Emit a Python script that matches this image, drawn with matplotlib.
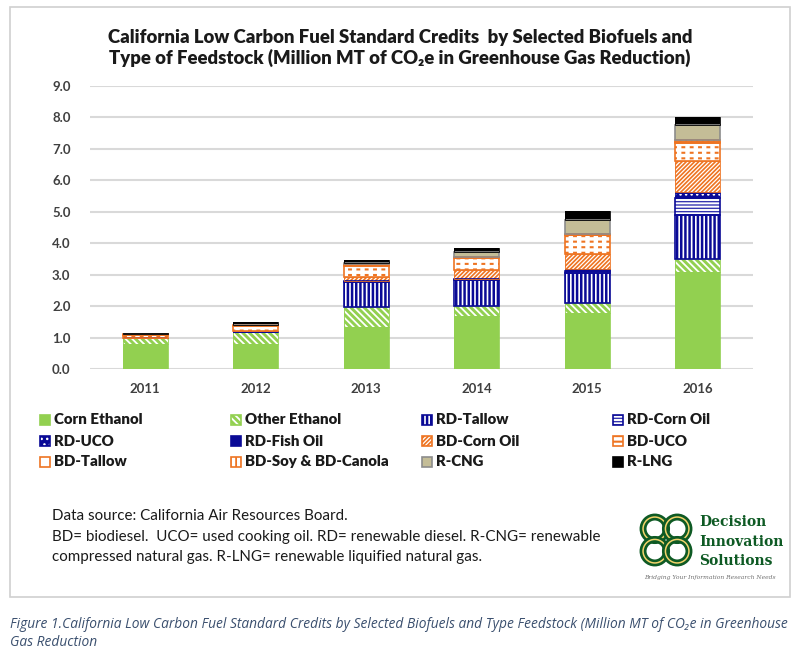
import matplotlib
matplotlib.use("Agg")
import matplotlib.pyplot as plt
from matplotlib.patches import Rectangle, Circle
import numpy as np

years = ["2011", "2012", "2013", "2014", "2015", "2016"]
series_names = ["Corn Ethanol", "Other Ethanol", "RD-Tallow", "RD-Corn Oil",
                "RD-UCO", "RD-Fish Oil", "BD-Corn Oil", "BD-UCO",
                "BD-Tallow", "BD-Soy & BD-Canola", "R-CNG", "R-LNG"]
corn_ethanol = [0.78, 0.78, 1.32, 1.68, 1.79, 3.07]
other_ethanol = [0.22, 0.40, 0.66, 0.33, 0.31, 0.42]
rd_tallow = [0.00, 0.00, 0.79, 0.83, 0.96, 1.42]
rd_corn_oil = [0.00, 0.00, 0.02, 0.03, 0.07, 0.54]
rd_uco = [0.00, 0.04, 0.00, 0.00, 0.04, 0.16]
rd_fish_oil = [0.00, 0.00, 0.00, 0.00, 0.00, 0.02]
bd_corn_oil = [0.00, 0.00, 0.14, 0.27, 0.48, 0.97]
bd_uco = [0.07, 0.14, 0.33, 0.38, 0.60, 0.58]
bd_tallow = [0.02, 0.03, 0.04, 0.03, 0.02, 0.04]
bd_soy_canola = [0.01, 0.02, 0.04, 0.02, 0.03, 0.06]
r_cng = [0.00, 0.00, 0.03, 0.15, 0.43, 0.47]
r_lng = [0.06, 0.07, 0.10, 0.14, 0.29, 0.25]
yticks = [0, 1, 2, 3, 4, 5, 6, 7, 8, 9]

values = [corn_ethanol, other_ethanol, rd_tallow, rd_corn_oil, rd_uco,
          rd_fish_oil, bd_corn_oil, bd_uco, bd_tallow, bd_soy_canola, r_cng, r_lng]

GREEN = "#92D050"
NAVY = "#0A0A96"
ORANGE = "#EE7422"
TAN = "#C4BD97"
# (face, hatch, hatchcolor, outline, hatch linewidth, breaker hatch)
styles = [
    (GREEN, None, None, GREEN, 1.0, None),
    (GREEN, "\\\\\\\\\\", "white", GREEN, 1.3, None),
    ("white", "||||", NAVY, NAVY, 1.8, None),
    ("white", "-----", "#3535B0", NAVY, 1.0, None),
    (NAVY, "...", "white", NAVY, 1.0, None),
    (NAVY, None, None, NAVY, 1.0, None),
    (ORANGE, "////////", "white", ORANGE, 0.9, None),
    ("white", "---", ORANGE, ORANGE, 1.5, "||"),
    ("white", None, None, ORANGE, 1.0, None),
    ("white", "|||", ORANGE, ORANGE, 1.3, None),
    (TAN, None, None, "#8C8C8C", 1.0, None),
    ("black", None, None, "black", 1.0, None),
]

W, H = 800, 655
fig = plt.figure(figsize=(8, 6.55), dpi=100)
fig.patch.set_facecolor("white")

def fx(x):
    return x / W

def fy(y):
    return 1 - y / H

fig.add_artist(Rectangle((fx(10), fy(597)), fx(790) - fx(10), fy(7) - fy(597),
                         transform=fig.transFigure, fill=False,
                         edgecolor="#D0D0D0", linewidth=1.2))

ax = fig.add_axes([fx(90), fy(369), fx(753) - fx(90), fy(86) - fy(369)])
x = np.arange(len(years))
bw = 0.41
bottom = np.zeros(len(years))

def set_hlw(artists, hlw):
    for b in artists:
        if hasattr(b, "set_hatch_linewidth"):
            b.set_hatch_linewidth(hlw)

for vals, (face, hatch, hc, oc, hlw, brk) in zip(values, styles):
    v = np.array(vals)
    plt.rcParams['hatch.linewidth'] = hlw
    bars = ax.bar(x, v, bw, bottom=bottom, color=face,
                  edgecolor=hc if hatch else face,
                  hatch=hatch, linewidth=0, zorder=3)
    set_hlw(bars, hlw)
    if brk:
        plt.rcParams['hatch.linewidth'] = 3.2
        bk = ax.bar(x, v, bw, bottom=bottom, fill=False, edgecolor="white",
                    hatch=brk, linewidth=0, zorder=3.5)
        set_hlw(bk, 3.2)
    ax.bar(x, v, bw, bottom=bottom, fill=False, edgecolor=oc,
           linewidth=1.2 if oc != face else 0.6, zorder=4)
    bottom += v

ax.set_xlim(-0.5, len(years) - 0.5)
ax.set_ylim(0, 9)
ax.set_yticks(yticks)
ax.set_yticklabels([f"{t:.1f}" for t in yticks], fontsize=9.5,
                   fontweight="bold", family="Lato", color="#404040")
ax.set_xticks(x)
ax.set_xticklabels(years, fontsize=9.5, fontweight="bold", family="Lato",
                   color="#404040")
ax.tick_params(axis="y", length=0, pad=14)
ax.tick_params(axis="x", length=0, pad=10)
for s in ax.spines.values():
    s.set_visible(False)
ax.grid(axis="y", color="#D9D9D9", linewidth=1.5, zorder=0)
ax.set_axisbelow(True)

title_font = dict(ha="center", va="center", fontsize=13.3, fontweight="heavy",
                  family=["Lato", "DejaVu Sans"], color="#1A1A1A")
fig.text(0.5, fy(38), "California Low Carbon Fuel Standard Credits  by Selected Biofuels and",
         **title_font)
fig.text(0.5, fy(58), "Type of Feedstock (Million MT of CO₂e in Greenhouse Gas Reduction)",
         **title_font)

col_x = [40, 231, 422, 613]
row_y = [420, 441, 462]
sq = 10
for i, (name, (face, hatch, hc, oc, hlw, brk)) in enumerate(zip(series_names, styles)):
    r, c = divmod(i, 4)
    px, py = col_x[c], row_y[r]
    plt.rcParams['hatch.linewidth'] = hlw
    p = Rectangle((fx(px), fy(py + sq / 2)), sq / W, sq / H,
                  transform=fig.transFigure, facecolor=face,
                  edgecolor=hc if hatch else face, hatch=hatch, linewidth=0)
    fig.add_artist(p)
    fig.add_artist(Rectangle((fx(px), fy(py + sq / 2)), sq / W, sq / H,
                             transform=fig.transFigure, fill=False,
                             edgecolor=oc, linewidth=1.2))
    fig.text(fx(px + 14), fy(py), name, ha="left", va="center", fontsize=10.8,
             fontweight="heavy", family="Lato", color="#1A1A1A")

notes = ["Data source: California Air Resources Board.",
         "BD= biodiesel.  UCO= used cooking oil. RD= renewable diesel. R-CNG= renewable",
         "compressed natural gas. R-LNG= renewable liquified natural gas."]
for k, line in enumerate(notes):
    fig.text(fx(52), fy(516 + 20.5 * k), line, ha="left", va="center",
             fontsize=10.9, family="Lato", color="#1A1A1A")

# logo
lax = fig.add_axes([fx(638), fy(568), fx(694) - fx(638), fy(512) - fy(568)])
lax.set_xlim(-1, 1)
lax.set_ylim(-1, 1)
lax.set_aspect("equal")
lax.axis("off")
DG = "#0E5A24"
for (cx, cy) in [(-0.4, 0.4), (0.4, 0.4), (-0.4, -0.4), (0.4, -0.4)]:
    lax.add_patch(Circle((cx, cy), 0.42, fill=False, edgecolor=DG, linewidth=5.0))
    lax.add_patch(Circle((cx, cy), 0.42, fill=False, edgecolor="#F2D36B", linewidth=1.1))
for k, word in enumerate(["Decision", "Innovation", "Solutions"]):
    fig.text(fx(699), fy(522 + 19.5 * k), word, ha="left", va="center",
             fontsize=10.0, fontweight="bold", family="DejaVu Serif", color=DG)
fig.text(fx(710), fy(577), "Bridging Your Information Research Needs", ha="center",
         va="center", fontsize=4.3, style="italic", family="DejaVu Serif", color="#707070")

cap_col = "#3A4F6E"
cap_font = dict(ha="left", va="center", fontsize=9.9, style="italic",
                family=["Open Sans", "DejaVu Sans"], color=cap_col)
fig.text(fx(10), fy(625), "Figure 1.California Low Carbon Fuel Standard Credits by Selected Biofuels and Type Feedstock (Million MT of CO₂e in Greenhouse",
         **cap_font)
fig.text(fx(10), fy(642), "Gas Reduction", **cap_font)

fig.savefig("out.png", dpi=100)
